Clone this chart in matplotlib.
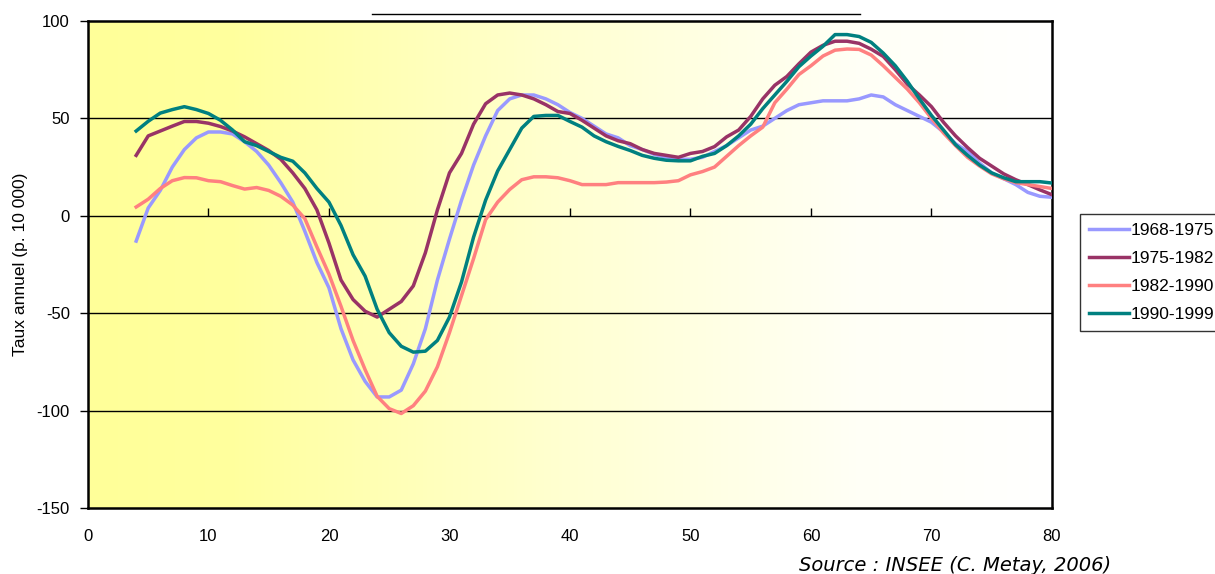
import numpy as np
import matplotlib.pyplot as plt
from matplotlib.colors import LinearSegmentedColormap
from matplotlib.lines import Line2D

# ---------------------------------------
# Data
# ---------------------------------------

ages = list(range(4, 81))

taux_1968_1975 = [
    -13, 4, 13, 25, 34, 40, 43, 43, 42, 38,
    33, 26, 17, 7, -8, -24, -37, -58, -74, -85,
    -93, -93, -89.5, -76, -58, -33, -12, 8, 26, 41,
    54, 60, 62, 62, 60, 57, 53, 50, 46, 42,
    40, 36, 34, 31.5, 30, 29, 29, 30, 33, 36,
    40, 44, 46, 50, 54, 57, 58, 59, 59, 59,
    60, 62, 61, 57, 54, 51, 48, 43, 37, 33,
    27, 22, 19, 16, 12, 10, 9.5,
]

taux_1975_1982 = [
    31, 41, 43.5, 46, 48.4, 48.4, 47.5, 45.8, 43.5, 40.5,
    37, 33.5, 29, 22, 14, 3, -14, -33, -43, -49,
    -52, -48, -44, -36, -19, 3, 22, 32, 47, 57.5,
    62, 63, 62, 60, 57, 53.5, 52.5, 49, 45, 41,
    38.5, 37, 34, 32, 31, 30, 32, 33, 35.5, 40.5,
    44, 51, 60, 67, 71.5, 78, 84, 87.5, 89.6, 89.6,
    88.5, 85.5, 81.8, 75, 67.5, 62, 56, 48, 41, 35,
    29.5, 25.5, 21.5, 18.5, 16, 13.3, 10.8,
]

taux_1982_1990 = [
    4.5, 8.5, 14, 18, 19.6, 19.5, 18, 17.5, 15.5, 13.7,
    14.5, 13, 10, 5.5, -1.5, -16, -30, -46.5, -64, -79,
    -92.7, -99, -101.5, -97.5, -90, -77.5, -60, -41, -22, -2,
    7, 13.5, 18.5, 20, 20, 19.5, 18, 16, 16, 16,
    17, 17, 17, 17, 17.3, 18, 21, 22.7, 25, 30.5,
    36, 41, 45.5, 58, 65, 72.5, 77, 82, 85, 85.6,
    85.4, 82.5, 77, 71, 65, 58, 50, 42.5, 36, 30,
    25.5, 21.5, 19, 17, 16, 15, 14,
]

taux_1990_1999 = [
    43.5, 48.5, 52.7, 54.5, 56, 54.5, 52.5, 49, 44, 38,
    36, 33, 30, 28, 22, 14, 7, -5, -20, -31,
    -48, -60, -67, -70, -69.5, -64, -52, -34, -11, 8,
    23, 34, 45, 51, 51.5, 51.5, 48.4, 45.5, 41, 38,
    35.6, 33.5, 31, 29.5, 28.5, 28.2, 28.2, 30.5, 32, 36,
    41, 47, 55, 62, 69, 76.5, 82, 87, 93, 93,
    92, 89, 83.5, 77, 69, 60, 51.5, 44, 36.5, 31,
    26, 22, 19.5, 17.5, 17.5, 17.5, 16.8,
]

periods = ["1968-1975", "1975-1982", "1982-1990", "1990-1999"]
colors = ["#9999FF", "#993366", "#FF8080", "#008080"]
series = [taux_1968_1975, taux_1975_1982, taux_1982_1990, taux_1990_1999]

x_ticks = list(range(0, 81, 10))
y_ticks = [-150, -100, -50, 0, 50, 100]

# ---------------------------------------
# Figure
# ---------------------------------------

plt.rcParams["font.family"] = ["Liberation Sans", "DejaVu Sans"]
plt.rcParams["axes.unicode_minus"] = False

fig = plt.figure(figsize=(12.15, 5.74), dpi=100)
ax = fig.add_axes([0.0724, 0.115, 0.7934, 0.8485])

ax.set_xlim(0, 80)
ax.set_ylim(-150, 100)

# yellow -> white gradient background
cmap = LinearSegmentedColormap.from_list(
    "bg",
    [(0.0, "#FFFF99"), (0.15, "#FFFF9E"), (0.5, "#FFFFD2"),
     (0.8, "#FFFFF6"), (1.0, "#FFFFFF")],
)
ax.imshow(
    np.linspace(0, 1, 256).reshape(1, -1),
    extent=[0, 80, -150, 100],
    aspect="auto",
    cmap=cmap,
    zorder=0,
)

for yv in [-100, -50, 0, 50]:
    ax.axhline(yv, color="black", lw=1.0, zorder=1)

for vals, label, col in zip(series, periods, colors):
    ax.plot(ages, vals, color=col, lw=2.5, label=label, zorder=3,
            solid_joinstyle="round")

for sp in ax.spines.values():
    sp.set_linewidth(1.8)
    sp.set_color("black")

ax.set_yticks(y_ticks)
ax.tick_params(axis="y", direction="out", length=6, width=1, labelsize=12, pad=7)

ax.set_xticks(x_ticks)
ax.tick_params(axis="x", length=0, labelsize=12, pad=15)

# x tick marks sit on the zero line
sec = ax.secondary_xaxis(0.6)
sec.set_xticks(x_ticks[1:-1])
sec.tick_params(axis="x", direction="out", length=6, width=1, labelbottom=False,
                labeltop=False)
sec.spines["bottom"].set_visible(False)
sec.spines["top"].set_visible(False)

ax.set_ylabel("Taux annuel (p. 10 000)", fontsize=12.5, labelpad=6)

leg = fig.legend(
    loc="upper left",
    bbox_to_anchor=(0.889, 0.627),
    frameon=True,
    fancybox=False,
    edgecolor="black",
    fontsize=12.5,
    handlelength=2.3,
    handletextpad=0.1,
    labelspacing=0.75,
    borderpad=0.5,
    borderaxespad=0,
)
leg.get_frame().set_linewidth(1.0)

fig.add_artist(Line2D([0.306, 0.708], [0.9756, 0.9756], color="black", lw=1.0))

fig.text(0.658, 0.006, "Source : INSEE (C. Metay, 2006)", fontsize=14,
         style="italic", family="DejaVu Sans", ha="left", va="baseline")

plt.savefig("out.png", dpi=100)
plt.close()
